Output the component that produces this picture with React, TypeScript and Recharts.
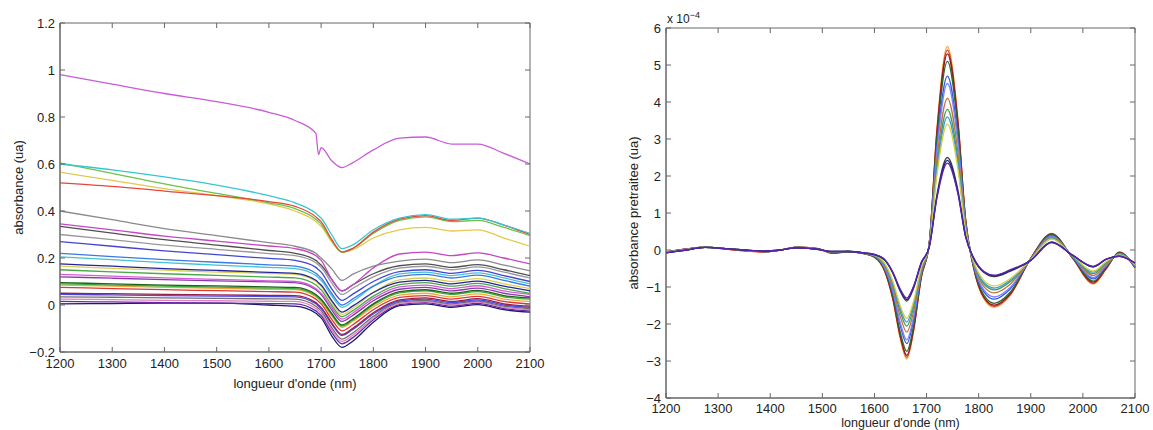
import { LineChart, Line, XAxis, YAxis, ReferenceArea } from 'recharts';

// ---- left panel: raw spectra ----
const leftWavelengths = [1200, 1300, 1400, 1500, 1600, 1650, 1690, 1695, 1700, 1720, 1740, 1760, 1800, 1850, 1900, 1950, 2000, 2050, 2100];

const rawTopMagenta = [0.98, 0.94, 0.9, 0.865, 0.82, 0.785, 0.73, 0.64, 0.67, 0.615, 0.585, 0.605, 0.66, 0.71, 0.715, 0.685, 0.685, 0.645, 0.6];
const rawCyan = [0.6, 0.575, 0.545, 0.51, 0.465, 0.435, 0.39, 0.38, 0.37, 0.3, 0.24, 0.255, 0.32, 0.37, 0.385, 0.365, 0.37, 0.34, 0.305];
const rawRed = [0.52, 0.505, 0.485, 0.465, 0.44, 0.42, 0.375, 0.365, 0.355, 0.28, 0.225, 0.24, 0.31, 0.365, 0.38, 0.36, 0.37, 0.34, 0.3];
const rawGreen = [0.605, 0.56, 0.515, 0.475, 0.435, 0.41, 0.365, 0.355, 0.345, 0.275, 0.225, 0.24, 0.305, 0.36, 0.375, 0.355, 0.36, 0.33, 0.295];
const rawYellow = [0.565, 0.53, 0.495, 0.465, 0.43, 0.4, 0.355, 0.345, 0.335, 0.27, 0.225, 0.235, 0.285, 0.32, 0.33, 0.315, 0.32, 0.285, 0.25];

const rawGray1 = [0.4, 0.363, 0.325, 0.295, 0.265, 0.25, 0.22, 0.21, 0.2, 0.155, 0.105, 0.13, 0.165, 0.187, 0.195, 0.18, 0.192, 0.17, 0.145];
const rawMagenta2 = [0.345, 0.32, 0.293, 0.272, 0.251, 0.24, 0.21, 0.2, 0.19, 0.11, 0.06, 0.085, 0.158, 0.217, 0.225, 0.21, 0.222, 0.2, 0.175];
const rawDarkGray = [0.335, 0.306, 0.278, 0.255, 0.232, 0.22, 0.19, 0.18, 0.17, 0.11, 0.06, 0.085, 0.133, 0.167, 0.175, 0.16, 0.172, 0.15, 0.125];
const rawGray2 = [0.3, 0.278, 0.255, 0.237, 0.219, 0.21, 0.18, 0.17, 0.16, 0.095, 0.045, 0.07, 0.12, 0.157, 0.165, 0.15, 0.162, 0.14, 0.115];
const rawBlue1 = [0.27, 0.25, 0.23, 0.214, 0.198, 0.19, 0.16, 0.15, 0.14, 0.07, 0.02, 0.045, 0.1, 0.142, 0.15, 0.135, 0.147, 0.125, 0.1];
const rawBlue2 = [0.22, 0.206, 0.193, 0.182, 0.171, 0.165, 0.135, 0.125, 0.115, 0.05, 0, 0.025, 0.08, 0.122, 0.13, 0.115, 0.127, 0.105, 0.08];
const rawCyan2 = [0.205, 0.193, 0.18, 0.17, 0.16, 0.155, 0.125, 0.115, 0.105, 0.04, -0.01, 0.015, 0.08, 0.132, 0.14, 0.125, 0.137, 0.115, 0.09];
const rawNavy1 = [0.175, 0.165, 0.155, 0.147, 0.139, 0.135, 0.105, 0.095, 0.085, 0.02, -0.03, -0.005, 0.053, 0.097, 0.105, 0.09, 0.102, 0.08, 0.06];
const rawYellow2 = [0.165, 0.156, 0.148, 0.14, 0.134, 0.13, 0.1, 0.09, 0.08, 0.01, -0.04, -0.015, 0.053, 0.107, 0.115, 0.1, 0.112, 0.09, 0.07];
const rawGreen2 = [0.15, 0.141, 0.133, 0.126, 0.119, 0.115, 0.085, 0.075, 0.065, 0, -0.05, -0.025, 0.038, 0.087, 0.095, 0.08, 0.092, 0.07, 0.05];
const rawMagenta3 = [0.13, 0.123, 0.115, 0.109, 0.103, 0.1, 0.07, 0.06, 0.05, -0.01, -0.06, -0.035, 0.028, 0.077, 0.085, 0.07, 0.082, 0.06, 0.045];
const rawPurple1 = [0.12, 0.114, 0.108, 0.103, 0.098, 0.095, 0.065, 0.055, 0.045, -0.02, -0.07, -0.045, 0.018, 0.067, 0.075, 0.06, 0.072, 0.05, 0.035];
const rawDarkGreen = [0.095, 0.09, 0.085, 0.081, 0.077, 0.075, 0.045, 0.035, 0.025, -0.035, -0.085, -0.06, 0.005, 0.057, 0.065, 0.05, 0.062, 0.04, 0.03];
const rawGreen3 = [0.09, 0.085, 0.08, 0.076, 0.072, 0.07, 0.04, 0.03, 0.02, -0.04, -0.09, -0.065, 0, 0.052, 0.06, 0.045, 0.057, 0.035, 0.025];
const rawOrange = [0.085, 0.08, 0.075, 0.071, 0.067, 0.065, 0.035, 0.025, 0.015, -0.045, -0.095, -0.07, -0.008, 0.042, 0.05, 0.035, 0.047, 0.025, 0.015];
const rawRed2 = [0.075, 0.07, 0.065, 0.061, 0.057, 0.055, 0.025, 0.015, 0.005, -0.06, -0.11, -0.085, -0.02, 0.032, 0.04, 0.025, 0.037, 0.015, 0.005];
const rawDarkRed = [0.05, 0.048, 0.045, 0.043, 0.041, 0.04, 0.01, 0, -0.01, -0.075, -0.125, -0.1, -0.033, 0.022, 0.03, 0.015, 0.027, 0.005, -0.005];
const rawBlue3 = [0.045, 0.043, 0.04, 0.038, 0.036, 0.035, 0.005, -0.005, -0.015, -0.08, -0.13, -0.105, -0.038, 0.017, 0.025, 0.01, 0.022, 0, -0.01];
const rawGray3 = [0.035, 0.033, 0.03, 0.028, 0.026, 0.025, -0.005, -0.015, -0.025, -0.095, -0.145, -0.12, -0.048, 0.012, 0.02, 0.005, 0.017, -0.005, -0.015];
const rawPink = [0.025, 0.023, 0.02, 0.018, 0.016, 0.015, -0.015, -0.025, -0.035, -0.105, -0.155, -0.13, -0.055, 0.007, 0.015, 0, 0.012, -0.01, -0.02];
const rawPurple2 = [0.015, 0.013, 0.01, 0.008, 0.006, 0.005, -0.025, -0.035, -0.045, -0.115, -0.165, -0.14, -0.063, 0.002, 0.01, -0.005, 0.007, -0.015, -0.025];
const rawNavy2 = [0.005, 0.006, 0.008, 0.008, 0, -0.005, -0.035, -0.045, -0.055, -0.13, -0.18, -0.155, -0.073, -0.003, 0.005, -0.01, 0.002, -0.02, -0.03];

const leftXTicks = [1200, 1300, 1400, 1500, 1600, 1700, 1800, 1900, 2000, 2100];
const leftYTicks = [-0.2, 0, 0.2, 0.4, 0.6, 0.8, 1, 1.2];

// ---- right panel: pretreated spectra (x 1e-4) ----
const rightWavelengths = [1200, 1240, 1275, 1320, 1360, 1390, 1420, 1450, 1490, 1520, 1550, 1580, 1600, 1620, 1635, 1650, 1662, 1675, 1690, 1705, 1720, 1740, 1760, 1775, 1790, 1810, 1830, 1860, 1900, 1940, 1980, 2020, 2045, 2070, 2100];

const preOrange = [-0.05, 0.03, 0.07, 0.02, -0.03, -0.05, 0, 0.08, 0.04, -0.09, -0.05, -0.1, -0.2, -0.59, -1.33, -2.42, -2.95, -2.21, -0.74, 0.17, 3.3, 5.5, 3.58, 0.83, -0.47, -1.32, -1.55, -1.24, -0.22, 0.45, -0.22, -0.92, -0.51, -0.05, -0.5];
const preRed = [-0.05, 0.03, 0.07, 0.02, -0.03, -0.05, 0, 0.08, 0.04, -0.09, -0.05, -0.1, -0.19, -0.58, -1.31, -2.38, -2.9, -2.18, -0.73, 0.16, 3.24, 5.4, 3.51, 0.81, -0.46, -1.29, -1.52, -1.22, -0.22, 0.44, -0.21, -0.9, -0.5, -0.06, -0.48];
const preDarkRed = [-0.06, 0.03, 0.08, 0.02, -0.02, -0.05, 0, 0.07, 0.04, -0.08, -0.05, -0.1, -0.19, -0.57, -1.28, -2.34, -2.85, -2.14, -0.71, 0.16, 3.18, 5.3, 3.45, 0.8, -0.45, -1.27, -1.49, -1.19, -0.23, 0.43, -0.21, -0.87, -0.48, -0.07, -0.47];
const preDarkGreen = [-0.06, 0.02, 0.08, 0.03, -0.02, -0.04, 0, 0.07, 0.03, -0.07, -0.04, -0.09, -0.18, -0.55, -1.23, -2.25, -2.74, -2.06, -0.69, 0.15, 3.06, 5.1, 3.32, 0.77, -0.43, -1.22, -1.44, -1.15, -0.23, 0.42, -0.2, -0.84, -0.46, -0.08, -0.46];
const preBlue = [-0.06, 0.02, 0.08, 0.03, -0.02, -0.04, 0, 0.07, 0.03, -0.06, -0.04, -0.09, -0.17, -0.51, -1.14, -2.07, -2.53, -1.9, -0.63, 0.14, 2.82, 4.7, 3.06, 0.71, -0.4, -1.13, -1.33, -1.06, -0.24, 0.39, -0.19, -0.78, -0.43, -0.09, -0.45];
const preLightBlue = [-0.06, 0.02, 0.08, 0.03, -0.02, -0.04, 0, 0.07, 0.03, -0.06, -0.04, -0.09, -0.16, -0.49, -1.09, -1.99, -2.43, -1.82, -0.61, 0.14, 2.7, 4.5, 2.93, 0.68, -0.38, -1.08, -1.27, -1.02, -0.24, 0.37, -0.18, -0.75, -0.41, -0.1, -0.44];
const preBrown = [-0.07, 0.02, 0.08, 0.03, -0.02, -0.04, 0, 0.07, 0.03, -0.06, -0.04, -0.09, -0.16, -0.44, -1, -1.82, -2.22, -1.67, -0.56, 0.12, 2.46, 4.1, 2.67, 0.62, -0.35, -0.99, -1.16, -0.93, -0.25, 0.34, -0.17, -0.69, -0.38, -0.11, -0.42];
const preGreen = [-0.07, 0.01, 0.08, 0.03, -0.02, -0.04, 0, 0.07, 0.03, -0.05, -0.04, -0.09, -0.15, -0.41, -0.93, -1.69, -2.06, -1.55, -0.52, 0.11, 2.28, 3.8, 2.47, 0.57, -0.32, -0.92, -1.08, -0.86, -0.25, 0.32, -0.16, -0.64, -0.35, -0.12, -0.41];
const preCyan = [-0.07, 0.01, 0.07, 0.03, -0.01, -0.03, 0, 0.06, 0.02, -0.05, -0.04, -0.08, -0.15, -0.39, -0.88, -1.6, -1.95, -1.46, -0.49, 0.11, 2.16, 3.6, 2.34, 0.54, -0.31, -0.88, -1.03, -0.82, -0.26, 0.31, -0.16, -0.6, -0.33, -0.12, -0.4];
const preYellow = [-0.07, 0.01, 0.07, 0.03, -0.01, -0.03, 0, 0.06, 0.02, -0.05, -0.04, -0.08, -0.14, -0.37, -0.83, -1.52, -1.85, -1.39, -0.46, 0.1, 2.04, 3.4, 2.21, 0.51, -0.29, -0.82, -0.97, -0.78, -0.26, 0.3, -0.15, -0.57, -0.31, -0.13, -0.39];
const preDarkGray = [-0.08, 0, 0.07, 0.03, -0.01, -0.03, 0, 0.06, 0.02, -0.04, -0.04, -0.08, -0.13, -0.28, -0.62, -1.13, -1.38, -1.04, -0.35, 0.08, 1.5, 2.5, 1.63, 0.38, -0.22, -0.61, -0.72, -0.58, -0.28, 0.22, -0.14, -0.46, -0.25, -0.16, -0.36];
const preNavy = [-0.08, 0, 0.07, 0.03, -0.01, -0.03, 0, 0.06, 0.02, -0.04, -0.04, -0.08, -0.12, -0.27, -0.6, -1.1, -1.34, -1.01, -0.34, 0.07, 1.45, 2.42, 1.57, 0.36, -0.21, -0.59, -0.7, -0.56, -0.28, 0.21, -0.14, -0.45, -0.25, -0.17, -0.35];
const prePurple = [-0.08, 0, 0.07, 0.03, -0.01, -0.03, 0, 0.06, 0.02, -0.04, -0.04, -0.08, -0.12, -0.26, -0.59, -1.07, -1.3, -0.98, -0.33, 0.07, 1.41, 2.35, 1.53, 0.35, -0.2, -0.58, -0.68, -0.54, -0.28, 0.2, -0.14, -0.44, -0.24, -0.17, -0.35];

const rightXTicks = [1200, 1300, 1400, 1500, 1600, 1700, 1800, 1900, 2000, 2100];
const rightYTicks = [-4, -3, -2, -1, 0, 1, 2, 3, 4, 5, 6];

const leftSeries = [
  { values: rawNavy2, color: '#1a1a70' },
  { values: rawPurple2, color: '#6a2aa8' },
  { values: rawPink, color: '#e27fc4' },
  { values: rawGray3, color: '#707070' },
  { values: rawBlue3, color: '#4a4aee' },
  { values: rawDarkRed, color: '#96204a' },
  { values: rawRed2, color: '#d83a3a' },
  { values: rawOrange, color: '#f2a83a' },
  { values: rawGreen3, color: '#3cae3c' },
  { values: rawDarkGreen, color: '#1e641e' },
  { values: rawPurple1, color: '#8a3aa8' },
  { values: rawMagenta3, color: '#d45cd4' },
  { values: rawGreen2, color: '#4aa84a' },
  { values: rawYellow2, color: '#d8d055' },
  { values: rawNavy1, color: '#24249a' },
  { values: rawCyan2, color: '#45c3d3' },
  { values: rawBlue2, color: '#3a78e2' },
  { values: rawBlue1, color: '#4444d4' },
  { values: rawGray2, color: '#9a9a9a' },
  { values: rawDarkGray, color: '#505050' },
  { values: rawMagenta2, color: '#c447c4' },
  { values: rawGray1, color: '#8a8a8a' },
  { values: rawYellow, color: '#e2c94e' },
  { values: rawGreen, color: '#6cc24a' },
  { values: rawRed, color: '#e8453a' },
  { values: rawCyan, color: '#35c6d2' },
  { values: rawTopMagenta, color: '#c95bd8' },
];

const rightSeries = [
  { values: preOrange, color: '#f0b030' },
  { values: preRed, color: '#e03030' },
  { values: preDarkRed, color: '#8a1a2a' },
  { values: preDarkGreen, color: '#2a6a2a' },
  { values: preBlue, color: '#3355e6' },
  { values: preLightBlue, color: '#7a84ff' },
  { values: preBrown, color: '#c8703a' },
  { values: preGreen, color: '#40a060' },
  { values: preCyan, color: '#4098d4' },
  { values: preYellow, color: '#d8d040' },
  { values: preDarkGray, color: '#404040' },
  { values: preNavy, color: '#22228a' },
  { values: prePurple, color: '#5a22b0' },
];

function buildRows(wl: number[], series: { values: number[] }[]) {
  return wl.map((w, i) => {
    const row: Record<string, number> = { wl: w };
    series.forEach((s, k) => {
      row['s' + k] = s.values[i];
    });
    return row;
  });
}

const FONT = '"Liberation Sans", Arial, sans-serif';
const AXIS = '#666';
const TEXT = '#222';

const fmt = (v: number) => (v < 0 ? '\u2212' + Math.abs(v) : String(v));

type Box = { left: number; right: number; top: number; bottom: number };

// matlab-style ticks: label outside, short marks inside on both sides of the box
function xTick(box: Box) {
  return (props: any) => {
    const { x, y, payload } = props;
    return (
      <g>
        <line x1={x} x2={x} y1={box.bottom} y2={box.bottom - 5} stroke={AXIS} />
        <line x1={x} x2={x} y1={box.top} y2={box.top + 5} stroke={AXIS} />
        <text x={x} y={y} dy="0.71em" textAnchor="middle" fontSize={13} fill={TEXT} fontFamily={FONT}>
          {payload.value}
        </text>
      </g>
    );
  };
}

function yTick(box: Box) {
  return (props: any) => {
    const { x, y, payload } = props;
    return (
      <g>
        <line x1={box.left} x2={box.left + 5} y1={y} y2={y} stroke={AXIS} />
        <line x1={box.right} x2={box.right - 5} y1={y} y2={y} stroke={AXIS} />
        <text x={x} y={y} dy="0.355em" textAnchor="end" fontSize={13} fill={TEXT} fontFamily={FONT}>
          {fmt(payload.value)}
        </text>
      </g>
    );
  };
}

const leftBox = { left: 60, right: 530, top: 23, bottom: 352 };
const rightBox = { left: 666, right: 1135, top: 28, bottom: 398 };

export default function App() {
  const leftRows = buildRows(leftWavelengths, leftSeries);
  const rightRows = buildRows(rightWavelengths, rightSeries);
  const rightLocal = { left: rightBox.left - 590, right: rightBox.right - 590, top: rightBox.top, bottom: rightBox.bottom };

  return (
    <div style={{ position: 'absolute', left: 0, top: 0, width: 1153, height: 430, background: '#fff', fontFamily: FONT }}>
      <div style={{ position: 'absolute', left: 0, top: 0 }}>
        <LineChart width={560} height={400} data={leftRows} margin={{ top: 23, right: 30, bottom: 0, left: 5 }}>
          <XAxis
            dataKey="wl"
            type="number"
            domain={[1200, 2100]}
            ticks={leftXTicks}
            interval={0}
            height={48}
            tickLine={false}
            tickSize={0}
            tickMargin={7}
            stroke={AXIS}
            tick={xTick(leftBox)}
            label={{ value: "longueur d'onde (nm)", position: 'insideBottom', offset: 12, fill: TEXT, fontSize: 13, fontFamily: FONT }}
          />
          <YAxis
            type="number"
            domain={[-0.2, 1.2]}
            ticks={leftYTicks}
            interval={0}
            width={55}
            tickLine={false}
            tickSize={0}
            tickMargin={5}
            stroke={AXIS}
            tick={yTick(leftBox)}
            label={{ value: 'absorbance (ua)', angle: -90, position: 'insideLeft', offset: 13, textAnchor: 'middle', fill: TEXT, fontSize: 13, fontFamily: FONT }}
          />
          <ReferenceArea x1={1200} x2={2100} y1={-0.2} y2={1.2} fill="none" stroke={AXIS} strokeWidth={1} ifOverflow="visible" />
          {leftSeries.map((s, k) => (
            <Line key={k} dataKey={'s' + k} type="monotone" stroke={s.color} strokeWidth={1.3} dot={false} isAnimationActive={false} />
          ))}
        </LineChart>
      </div>

      <div style={{ position: 'absolute', left: 590, top: 0 }}>
        <LineChart width={563} height={430} data={rightRows} margin={{ top: 28, right: 18, bottom: 0, left: 26 }}>
          <XAxis
            dataKey="wl"
            type="number"
            domain={[1200, 2100]}
            ticks={rightXTicks}
            interval={0}
            height={32}
            tickLine={false}
            tickSize={0}
            tickMargin={6}
            stroke={AXIS}
            tick={xTick(rightLocal)}
            label={{ value: "longueur d'onde (nm)", position: 'insideBottom', offset: 3, fill: TEXT, fontSize: 12.5, fontFamily: FONT }}
          />
          <YAxis
            type="number"
            domain={[-4, 6]}
            ticks={rightYTicks}
            interval={0}
            width={50}
            tickLine={false}
            tickSize={0}
            tickMargin={5}
            stroke={AXIS}
            tick={yTick(rightLocal)}
            label={{ value: 'absorbance pretraitee (ua)', angle: -90, position: 'insideLeft', offset: 17, textAnchor: 'middle', fill: TEXT, fontSize: 13, fontFamily: FONT }}
          />
          <ReferenceArea x1={1200} x2={2100} y1={-4} y2={6} fill="none" stroke={AXIS} strokeWidth={1} ifOverflow="visible" />
          {rightSeries.map((s, k) => (
            <Line key={k} dataKey={'s' + k} type="monotone" stroke={s.color} strokeWidth={1.3} dot={false} isAnimationActive={false} />
          ))}
        </LineChart>
      </div>

      <div style={{ position: 'absolute', left: 667, top: 8, fontSize: 12, color: TEXT, lineHeight: '14px' }}>
        x 10<sup style={{ fontSize: 9 }}>−4</sup>
      </div>
    </div>
  );
}
